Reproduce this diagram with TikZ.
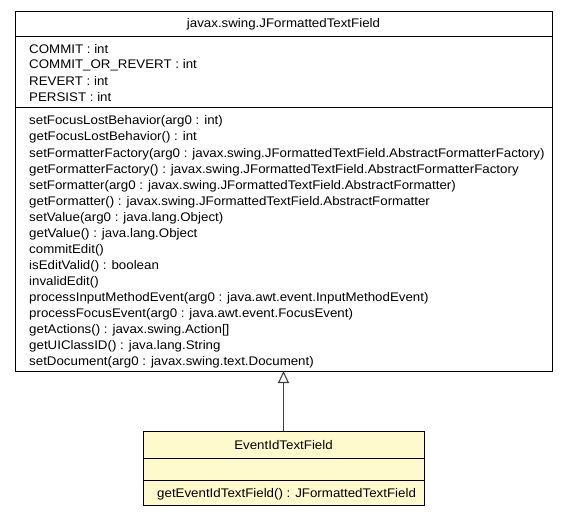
\documentclass[tikz,border=0pt]{standalone}
\usepackage{fontspec}
\setmainfont{Liberation Sans}[FakeStretch=1.065]
\usetikzlibrary{arrows.meta}
\definecolor{umlyellow}{RGB}{255,250,205}
\definecolor{edgegray}{RGB}{64,64,64}
\tikzset{
  box/.style={draw=black, line width=0.9pt, anchor=north west, inner sep=0pt, outer sep=0pt},
  txt/.style={anchor=west, inner sep=0pt, yshift=-1.5pt, font=\fontsize{12.5}{14}\selectfont},
  ctxt/.style={anchor=center, inner sep=0pt, yshift=-1pt, font=\fontsize{12.5}{14}\selectfont},
  inherit/.style={draw=edgegray, line width=1.6pt, -{Triangle[open, length=12pt, width=11pt, line width=1.1pt]}}
}
\begin{document}
\begin{tikzpicture}[x=1pt,y=-1pt]
\useasboundingbox (0,0) rectangle (568,517);
% top class
\node[box, minimum width=537pt, minimum height=360pt, fill=white] (sup) at (15,11) {};
\node[box, minimum width=537pt, minimum height=25pt] (suphead) at (15,11) {};
\node[box, minimum width=537pt, minimum height=71pt] (supattr) at (15,36) {};
\node[ctxt] (supname) at (283.5,23.5) {javax.swing.JFormattedTextField};
\node[txt] (a1) at (29,48) {COMMIT : int};
\node[txt] (a2) at (29,64) {COMMIT\_OR\_REVERT : int};
\node[txt] (a3) at (29,80) {REVERT : int};
\node[txt] (a4) at (29,96) {PERSIST : int};
\node[txt] (m1) at (29,120) {setFocusLostBehavior(arg0 : int)};
\node[txt] (m2) at (29,136) {getFocusLostBehavior() : int};
\node[txt] (m3) at (29,152.5) {setFormatterFactory(arg0 : javax.swing.JFormattedTextField.AbstractFormatterFactory)};
\node[txt] (m4) at (29,168.5) {getFormatterFactory() : javax.swing.JFormattedTextField.AbstractFormatterFactory};
\node[txt] (m5) at (29,184.5) {setFormatter(arg0 : javax.swing.JFormattedTextField.AbstractFormatter)};
\node[txt] (m6) at (29,200.5) {getFormatter() : javax.swing.JFormattedTextField.AbstractFormatter};
\node[txt] (m7) at (29,216.5) {setValue(arg0 : java.lang.Object)};
\node[txt] (m8) at (29,232.5) {getValue() : java.lang.Object};
\node[txt] (m9) at (29,248.5) {commitEdit()};
\node[txt] (m10) at (29,264.5) {isEditValid() : boolean};
\node[txt] (m11) at (29,280.5) {invalidEdit()};
\node[txt] (m12) at (29,296.5) {processInputMethodEvent(arg0 : java.awt.event.InputMethodEvent)};
\node[txt] (m13) at (29,312.5) {processFocusEvent(arg0 : java.awt.event.FocusEvent)};
\node[txt] (m14) at (29,328.5) {getActions() : javax.swing.Action[]};
\node[txt] (m15) at (29,344.5) {getUIClassID() : java.lang.String};
\node[txt] (m16) at (29,360.5) {setDocument(arg0 : javax.swing.text.Document)};
% bottom class
\node[box, minimum width=281pt, minimum height=74pt, fill=umlyellow] (sub) at (143,431) {};
\node[box, minimum width=281pt, minimum height=27pt] (subhead) at (143,431) {};
\node[box, minimum width=281pt, minimum height=22pt] (subattr) at (143,458) {};
\node[ctxt] (subname) at (283.5,444.5) {EventIdTextField};
\node[txt] (sm1) at (157,493) {getEventIdTextField() : JFormattedTextField};
% inheritance
\draw[inherit] (sub.north) -- (sup.south);
\end{tikzpicture}
\end{document}
